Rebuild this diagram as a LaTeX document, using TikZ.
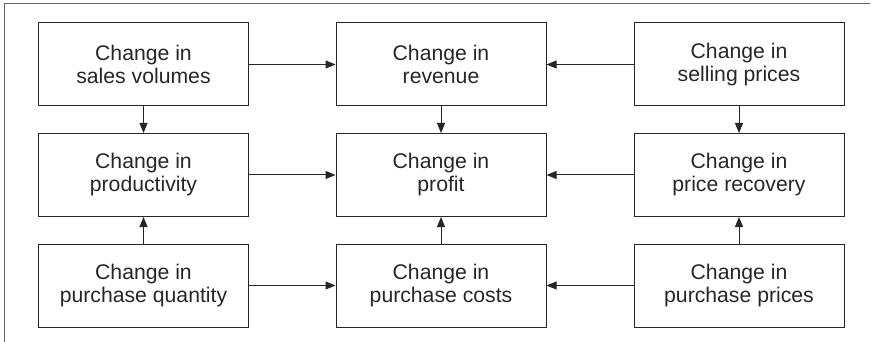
\documentclass[tikz,border=0pt]{standalone}
\usepackage{fontspec}
\setmainfont{Liberation Sans}
\usetikzlibrary{positioning,arrows.meta}

\begin{document}
\begin{tikzpicture}[x=0.75pt,y=-0.75pt,
    box/.style={draw=black!85, line width=0.75pt, minimum width=157.5pt,
      minimum height=62.25pt, inner sep=0pt, align=center,
      font=\fontsize{15.9}{17.25}\selectfont, text=black!85},
    link/.style={draw=black!85, line width=0.75pt,
      -{Triangle[length=7.5pt,width=6pt]}}]
  \useasboundingbox (0,0) rectangle (871,342);
  \draw[black!60, line width=0.75pt] (4,342) -- (4,4) -- (870,4);
  % top row
  \node[box] (vol)  at (143.5,64.5) {Change in\\sales volumes};
  \node[box] (rev)  at (441,64.5)   {Change in\\revenue};
  \node[box] (sell) at (739,64.5)   {Change in\\selling prices};
  % middle row
  \node[box] (prod) at (143.5,175)  {Change in\\productivity};
  \node[box] (prof) at (441,175)    {Change in\\profit};
  \node[box] (rec)  at (739,175)    {Change in\\price recovery};
  % bottom row
  \node[box] (qty)  at (143.5,285.5) {Change in\\purchase quantity};
  \node[box] (cost) at (441,285.5)   {Change in\\purchase costs};
  \node[box] (pp)   at (739,285.5)   {Change in\\purchase prices};
  % links
  \draw[link] (vol) -- (rev);
  \draw[link] (sell) -- (rev);
  \draw[link] (prod) -- (prof);
  \draw[link] (rec) -- (prof);
  \draw[link] (qty) -- (cost);
  \draw[link] (pp) -- (cost);
  \draw[link] (vol) -- (prod);
  \draw[link] (rev) -- (prof);
  \draw[link] (sell) -- (rec);
  \draw[link] (qty) -- (prod);
  \draw[link] (cost) -- (prof);
  \draw[link] (pp) -- (rec);
\end{tikzpicture}
\end{document}
